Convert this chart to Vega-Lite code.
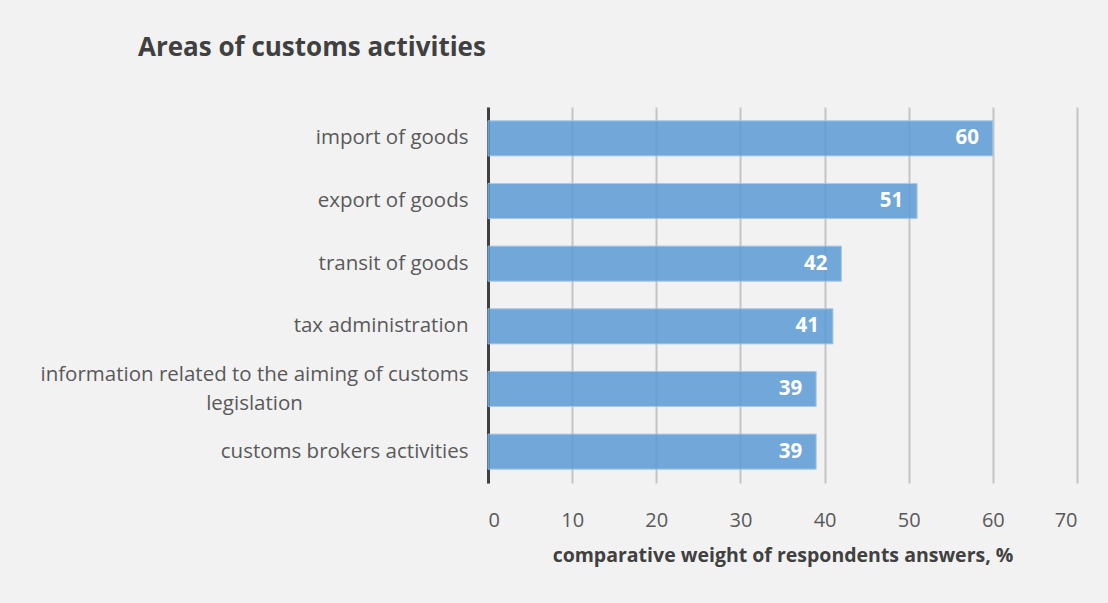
{
  "$schema": "https://vega.github.io/schema/vega-lite/v6.json",
  "autosize": {"type": "none"},
  "width": 589,
  "height": 376,
  "padding": {"left": 488, "top": 107, "right": 31, "bottom": 120},
  "background": "#f2f2f2",
  "title": {
    "text": "Areas of customs activities",
    "anchor": "start",
    "frame": "group",
    "dx": -350,
    "offset": 46,
    "font": "Open Sans",
    "fontSize": 26,
    "fontWeight": "bold",
    "color": "#404040"
  },
  "data": {
    "values": [
      {"area": "import of goods", "value": 60},
      {"area": "export of goods", "value": 51},
      {"area": "transit of goods", "value": 42},
      {"area": "tax administration", "value": 41},
      {"area": "information related to the aiming of customs legislation", "value": 39},
      {"area": "customs brokers activities", "value": 39}
    ]
  },
  "config": {
    "view": {"stroke": null},
    "font": "Open Sans"
  },
  "encoding": {
    "y": {
      "field": "area",
      "type": "nominal",
      "sort": null,
      "scale": {"paddingInner": 0.44, "paddingOuter": 0.22},
      "axis": {
        "title": null,
        "ticks": false,
        "labelFont": "Open Sans",
        "labelFontSize": 20.5,
        "labelColor": "#595959",
        "labelPadding": {"condition": {"test": "datum.value == 'information related to the aiming of customs legislation'", "value": 234}, "value": 20},
        "labelAlign": {"condition": {"test": "datum.value == 'information related to the aiming of customs legislation'", "value": "center"}, "value": "right"},
        "labelLimit": 500,
        "labelLineHeight": 29,
        "labelOffset": {"condition": {"test": "datum.value == 'information related to the aiming of customs legislation'", "value": -14}, "value": 0},
        "labelExpr": "datum.label == 'information related to the aiming of customs legislation' ? ['information related to the aiming of customs', 'legislation'] : datum.label",
        "domainColor": "#404040",
        "domainWidth": 3
      }
    },
    "x": {
      "field": "value",
      "type": "quantitative",
      "scale": {"domain": [0, 70]},
      "axis": {
        "values": [0, 10, 20, 30, 40, 50, 60, 70],
        "title": "comparative weight of respondents answers, %",
        "titleFont": "Open Sans",
        "titleFontSize": 19.5,
        "titleFontWeight": "bold",
        "titleColor": "#404040",
        "titlePadding": 16,
        "labelFont": "Open Sans",
        "labelFontSize": 20,
        "labelColor": "#595959",
        "labelPadding": 27,
        "domain": false,
        "ticks": false,
        "grid": true,
        "gridColor": "#c4c4c4",
        "gridWidth": 2
      }
    }
  },
  "layer": [
    {
      "mark": {"type": "bar", "color": "#5b9bd5", "opacity": 0.85, "stroke": "#9dc3e6", "strokeWidth": 1}
    },
    {
      "mark": {"type": "text", "align": "right", "dx": -14, "color": "white", "fontWeight": "bold", "fontSize": 20.5, "font": "Open Sans"},
      "encoding": {"text": {"field": "value", "type": "quantitative"}}
    }
  ]
}
